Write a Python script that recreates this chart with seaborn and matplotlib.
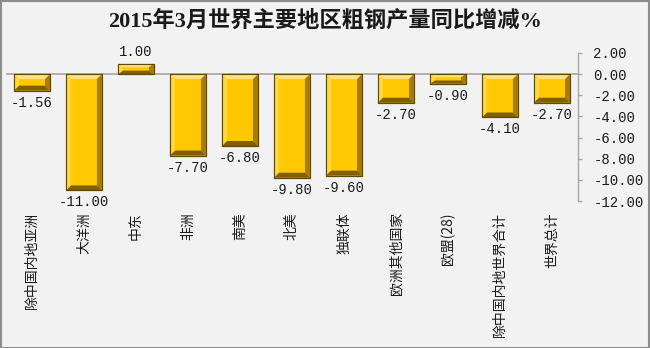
import numpy as np
import matplotlib
matplotlib.use("Agg")
import matplotlib.pyplot as plt
from matplotlib.patches import Polygon, Rectangle
from matplotlib.ticker import FormatStrFormatter
import seaborn as sns

categories = ["除中国内地亚洲", "大洋洲", "中东", "非洲", "南美", "北美", "独联体",
              "欧洲其他国家", "欧盟(28)", "除中国内地世界合计", "世界总计"]
values = [-1.56, -11.00, 1.00, -7.70, -6.80, -9.80, -9.60, -2.70, -0.90, -4.10, -2.70]
y_ticks = [2, 0, -2, -4, -6, -8, -10, -12]
title = "2015年3月世界主要地区粗钢产量同比增减%"

sns.set_theme(style="white")
plt.rcParams["font.family"] = ["Liberation Mono", "Noto Sans CJK SC", "DejaVu Sans"]
plt.rcParams["axes.unicode_minus"] = False

W, H = 650, 348
fig = plt.figure(figsize=(W / 100, H / 100), dpi=100)
fig.patch.set_facecolor("#f2f2f2")
ax = fig.add_axes([6 / W, 1 - 201 / H, 572 / W, 148 / H])
ax.set_facecolor("#f2f2f2")

sns.barplot(x=categories, y=values, color="#FFC800", saturation=1, width=0.69,
            edgecolor="#5e4700", linewidth=0.8, ax=ax, zorder=3)
ax.axhline(0, color="#a6a6a6", lw=1.2, zorder=1)
ax.set_ylim(-12, 2)
ax.set_xlim(-0.5, len(categories) - 0.5)

# bevel effect on each bar
px_x = 572 / len(categories)
px_y = 148 / 14.0
for p in list(ax.patches):
    x0 = p.get_x(); w = p.get_width()
    y0 = p.get_y(); h = p.get_height()
    yb, yt = min(y0, y0 + h), max(y0, y0 + h)
    x1 = x0 + w
    bx = 5 / px_x
    by = min(5 / px_y, (yt - yb) / 3)
    bx_eff = min(bx, w / 3)
    ix0, ix1 = x0 + bx_eff, x1 - bx_eff
    iyb, iyt = yb + by, yt - by
    polys = [
        ([(x0, yt), (x1, yt), (ix1, iyt), (ix0, iyt)], "#FFE37A"),   # top
        ([(x0, yb), (x0, yt), (ix0, iyt), (ix0, iyb)], "#FFD83A"),   # left
        ([(x1, yb), (x1, yt), (ix1, iyt), (ix1, iyb)], "#A67C00"),   # right
        ([(x0, yb), (x1, yb), (ix1, iyb), (ix0, iyb)], "#7F5F00"),   # bottom
    ]
    for pts, c in polys:
        ax.add_patch(Polygon(pts, closed=True, facecolor=c, edgecolor="none", zorder=4))
    ax.add_patch(Rectangle((x0, yb), w, yt - yb, facecolor="none",
                           edgecolor="#5e4700", linewidth=0.8, zorder=5))

# value labels
for i, v in enumerate(values):
    off = 12 / px_y
    yy = v + off if v > 0 else v - off
    ax.text(i, yy, f"{v:.2f}", ha="center", va="center", fontsize=10,
            color="#1a1a1a", family=["Liberation Mono"], zorder=6)

ax.yaxis.tick_right()
ax.set_yticks(y_ticks)
ax.yaxis.set_major_formatter(FormatStrFormatter("%.2f"))
ax.tick_params(axis="y", which="major", direction="out", length=3, width=1,
               color="#a6a6a6", labelsize=10, labelcolor="#1a1a1a", pad=8, right=True)
for lab in ax.get_yticklabels():
    lab.set_family(["Liberation Mono"])
ax.tick_params(axis="x", length=0, pad=8)
ax.set_xticks(range(len(categories)))
ax.set_xticklabels(categories, rotation=90, va="top", ha="center", fontsize=10,
                   family=["Noto Sans CJK SC", "DejaVu Sans"], color="#1a1a1a")
for s in ["top", "left", "bottom"]:
    ax.spines[s].set_visible(False)
ax.spines["right"].set_color("#a6a6a6")
ax.spines["right"].set_linewidth(1)
ax.set_xlabel(""); ax.set_ylabel("")

fig.text(0.5, 1 - 21 / H, title, ha="center", va="center", fontsize=16,
         family=["Liberation Serif", "Noto Sans CJK SC"], color="#1a1a1a", weight="bold")

# figure border
fig.add_artist(Rectangle((0.5 / W, 0.5 / H), 1 - 1.5 / W, 1 - 1.5 / H, transform=fig.transFigure,
                         facecolor="none", edgecolor="#8c8c8c", linewidth=1.5))

fig.savefig("out.png", dpi=100, facecolor=fig.get_facecolor())
